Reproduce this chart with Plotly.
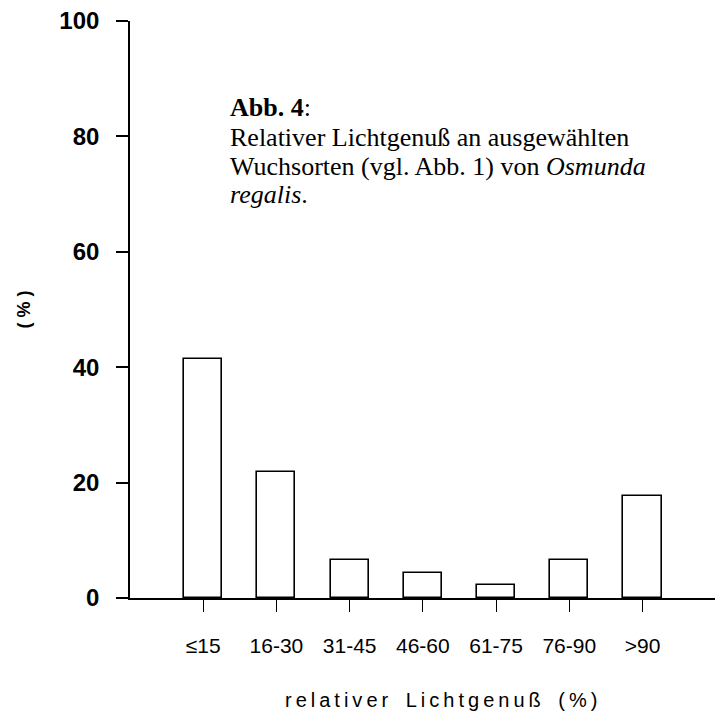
import plotly.graph_objects as go

# Relative light availability classes (%) and share of sites (%)
categories = ["≤15", "16-30", "31-45", "46-60", "61-75", "76-90", ">90"]
shares = [41.4, 21.8, 6.6, 4.3, 2.3, 6.6, 17.7]
y_ticks = [0, 20, 40, 60, 80, 100]
x_title = "relativer Lichtgenuß (%)"
y_title = "( % )"

fig = go.Figure(
    go.Bar(
        x=categories,
        y=shares,
        width=0.52,
        marker=dict(color="white", line=dict(color="black", width=1.6)),
        showlegend=False,
    )
)

fig.update_layout(
    width=723,
    height=720,
    margin=dict(l=130, r=8, t=21, b=122),
    paper_bgcolor="white",
    plot_bgcolor="white",
    bargap=0,
)

fig.update_xaxes(
    type="category",
    range=[-1, 6.99],
    showline=True,
    linecolor="black",
    linewidth=1.6,
    ticks="outside",
    ticklen=12,
    tickwidth=1.2,
    tickcolor="black",
    showgrid=False,
    zeroline=False,
    ticklabelstandoff=16,
    tickfont=dict(family="Liberation Sans", size=21, color="black"),
)

fig.update_yaxes(
    range=[0, 100],
    tickvals=y_ticks,
    showline=True,
    linecolor="black",
    linewidth=1.6,
    ticks="outside",
    ticklen=12,
    tickwidth=1.6,
    tickcolor="black",
    showgrid=False,
    zeroline=False,
    ticklabelstandoff=12,
    tickfont=dict(family="Liberation Sans", size=24, color="black", weight="bold"),
    title=dict(
        text=y_title,
        font=dict(family="Liberation Sans", size=18, color="black", weight="bold"),
        standoff=24,
    ),
)

# pixel -> plot-area fraction helpers
plot_l, plot_r, plot_t, plot_b = 130, 715, 21, 598


def px_x(v):
    return (v - plot_l) / (plot_r - plot_l)


def px_y(v):
    return (plot_b - v) / (plot_b - plot_t)


# letter-spaced x-axis title, placed as an annotation below the axis
spaced_title = "\u2009".join(x_title).replace(" ", " \u2009")
fig.add_annotation(
    x=px_x(441),
    y=px_y(700),
    xref="paper",
    yref="paper",
    text=spaced_title,
    showarrow=False,
    xanchor="center",
    yanchor="middle",
    font=dict(family="Liberation Sans", size=20, color="black"),
)

# Figure caption inside the plot area
caption_lines = [
    ("<b>Abb. 4</b>:", 108),
    ("Relativer Lichtgenuß an ausgewählten", 138),
    ("Wuchsorten (vgl. Abb. 1) von <i>Osmunda</i>", 166),
    ("<i>regalis</i>.", 194),
]
for text, ypix in caption_lines:
    fig.add_annotation(
        x=px_x(228),
        y=px_y(ypix),
        xref="paper",
        yref="paper",
        text=text,
        showarrow=False,
        xanchor="left",
        yanchor="middle",
        font=dict(family="Liberation Serif", size=26, color="black"),
    )

fig.write_html("out.html")
